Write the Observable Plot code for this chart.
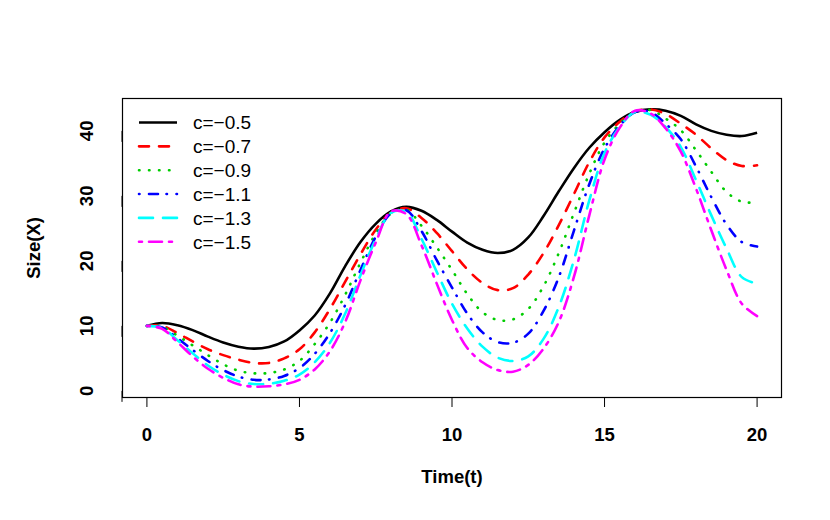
<!DOCTYPE html>
<html>
<head>
<meta charset="utf-8">
<script src="https://cdn.jsdelivr.net/npm/d3@7"></script>
<script src="https://cdn.jsdelivr.net/npm/@observablehq/plot@0.6"></script>
<style>
  html, body { margin: 0; padding: 0; background: white; }
  #chart { width: 830px; height: 520px; }
</style>
</head>
<body>
<div id="chart"></div>
<script>
// ---- data ----
const times = [0,0.5,1,1.5,2,2.5,3,3.5,4,4.5,5,5.5,6,6.5,7,7.5,8,8.5,9,9.5,10,10.5,11,11.5,12,12.5,13,13.5,14,14.5,15,15.5,16,16.5,17,17.5,18,18.5,19,19.5,20];
const seriesLabels = ["c=\u22120.5", "c=\u22120.7", "c=\u22120.9", "c=\u22121.1", "c=\u22121.3", "c=\u22121.5"];
const sizeC05 = [10,10.45,10.1,9.35,8.35,7.45,6.8,6.5,6.75,7.6,9.3,11.6,15.0,19.2,22.9,25.7,27.6,28.3,27.7,26.3,24.5,22.8,21.7,21.2,21.7,23.6,26.9,30.7,34.3,37.4,39.8,41.7,42.9,43.3,43.1,42.3,41.0,40.0,39.4,39.2,39.7];
const sizeC07 = [10,10.0,8.9,7.6,6.4,5.5,4.8,4.3,4.3,5.0,6.4,9.0,12.6,16.8,21.0,24.8,27.4,28.1,26.6,24.3,21.5,18.7,16.6,15.5,15.8,17.9,21.2,25.5,30.3,35.2,39.0,41.4,43.0,43.3,42.6,41.1,39.4,37.3,35.5,34.6,34.7];
const sizeC09 = [10,9.85,8.5,7.0,5.5,4.1,3.1,2.7,2.75,3.3,4.6,7.2,10.5,14.8,19.7,24.2,27.3,27.9,25.4,22.1,18.6,14.9,12.1,10.9,11.0,12.6,16.1,21.2,27.4,33.4,38.2,41.1,42.9,43.2,41.9,40.1,37.0,33.7,30.6,29.1,29.0];
const sizeC11 = [10,9.75,8.1,6.3,4.6,3.2,2.2,1.7,1.75,2.3,3.5,5.7,8.9,13.2,18.6,23.7,27.3,27.8,24.6,20.1,15.9,11.9,9.0,7.5,7.4,8.8,12.3,17.5,24.7,31.8,37.3,40.8,42.9,42.9,41.1,38.7,34.5,29.8,25.6,22.9,22.2];
const sizeC13 = [10,9.65,7.8,5.8,3.9,2.5,1.5,1.05,1.1,1.55,2.5,4.4,7.4,11.9,17.8,23.3,27.4,27.5,23.4,18.3,13.4,9.6,6.8,5.1,4.6,5.3,8.0,12.9,20.2,29.3,36.6,40.6,42.9,42.5,40.6,37.5,32.4,27.0,21.9,17.5,16.5];
const sizeC15 = [10,9.55,7.5,5.3,3.4,2.0,1.0,0.65,0.7,1.0,1.7,3.3,6.1,10.6,17.0,22.8,27.6,27.2,22.4,16.5,10.9,6.6,4.4,3.2,2.95,4.0,6.5,10.6,17.6,27.0,35.6,40.5,43.1,42.7,40.4,36.8,31.1,24.7,18.6,13.4,11.5];
const xTicks = [0,5,10,15,20];
const yTicks = [0,10,20,30,40];

// ---- styles ----
const allSeries = [sizeC05, sizeC07, sizeC09, sizeC11, sizeC13, sizeC15];
const colors = ["#000000", "#FF0000", "#00CD00", "#0000FF", "#00FFFF", "#FF00FF"];
const dashes = ["none", "10,10", "0.5,9.5", "0.5,9.5,9,8.5", "14,10", "3,7,13,7"];
const LW = 2.6;
const FONT = "'Liberation Sans', Arial, Helvetica, sans-serif";

const rows = allSeries.map((vals, i) => times.map((t, j) => ({t, v: vals[j], s: seriesLabels[i]})));

const lineMarks = rows.map((data, i) => Plot.line(data, {
  x: "t", y: "v",
  stroke: colors[i],
  strokeWidth: LW,
  strokeDasharray: dashes[i],
  strokeLinecap: i === 0 ? "butt" : "round",
  curve: "catmull-rom"
}));

const chart = Plot.plot({
  width: 830,
  height: 520,
  marginLeft: 122,
  marginRight: 49,
  marginTop: 98,
  marginBottom: 123,
  style: {fontFamily: FONT, fontSize: "18px", background: "white", color: "black"},
  x: {domain: [-0.8, 20.8]},
  y: {domain: [-1.02, 44.98]},
  marks: [
    ...lineMarks,
    Plot.frame({stroke: "black", strokeWidth: 1.2}),
    Plot.axisX(xTicks, {tickSize: 10, tickPadding: 20, fontWeight: "bold", fontSize: 18.5,
      label: "Time(t)", labelAnchor: "center", labelOffset: 85, labelArrow: "none"}),
    Plot.axisY(yTicks, {tickSize: 11, tickPadding: 24, rotate: -90, textAnchor: "middle", fontWeight: "bold", fontSize: 18.5,
      label: "Size(X)", labelAnchor: "center", labelOffset: 96, labelArrow: "none"})
  ]
});
document.getElementById("chart").appendChild(chart);

// ---- legend (top-left inside the frame, no box) ----
const svg = d3.select(chart);
const lg = svg.append("g").attr("class", "legend").attr("text-anchor", "start");
seriesLabels.forEach((lab, i) => {
  const y = 122.5 + i * 23.85;
  lg.append("line")
    .attr("x1", 139).attr("x2", 177).attr("y1", y).attr("y2", y)
    .attr("stroke", colors[i]).attr("stroke-width", LW)
    .attr("stroke-dasharray", dashes[i])
    .attr("stroke-linecap", i === 0 ? "butt" : "round");
  lg.append("text")
    .attr("x", 193).attr("y", y).attr("dy", "0.36em")
    .attr("text-anchor", "start")
    .attr("font-family", FONT)
    .attr("font-size", 19)
    .attr("fill", "black")
    .text(lab);
});
</script>
</body>
</html>
